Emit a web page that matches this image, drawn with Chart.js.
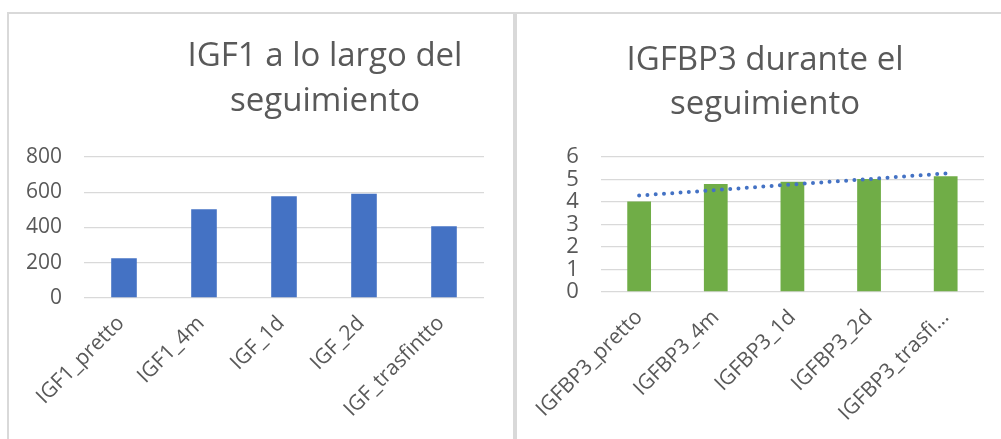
<!DOCTYPE html>
<html>
<head>
<meta charset="utf-8">
<script src="https://cdn.jsdelivr.net/npm/chart.js@4"></script>
<style>
  html, body { margin: 0; padding: 0; background: #ffffff; }
  body { width: 1001px; height: 439px; position: relative; overflow: hidden; }
  .frame-top { position: absolute; left: 7px; top: 12px; width: 994px; height: 2px; background: #d9d9d9; }
  .frame-left { position: absolute; left: 7px; top: 12px; width: 2px; height: 427px; background: #d9d9d9; }
  .frame-mid { position: absolute; left: 513px; top: 12px; width: 4px; height: 427px; background: #d9d9d9; }
  #wrapA { position: absolute; left: 9px; top: 15px; width: 504px; height: 424px; }
  #wrapB { position: absolute; left: 519px; top: 15px; width: 482px; height: 424px; }
</style>
</head>
<body>
<div class="frame-top"></div>
<div class="frame-left"></div>
<div class="frame-mid"></div>
<div id="wrapA"><canvas id="chartA" width="504" height="424"></canvas></div>
<div id="wrapB"><canvas id="chartB" width="482" height="424"></canvas></div>
<script>
// ---- Data ----
const igf1Categories = ["IGF1_pretto", "IGF1_4m", "IGF_1d", "IGF_2d", "IGF_trasfintto"];
const igf1Values = [226, 503, 577, 592, 407];
const igf1Ticks = [0, 200, 400, 600, 800];
const igf1Title = ["IGF1 a lo largo del", "seguimiento"];

const igfbp3Categories = ["IGFBP3_pretto", "IGFBP3_4m", "IGFBP3_1d", "IGFBP3_2d", "IGFBP3_trasfi\u2026"];
const igfbp3Values = [4.02, 4.8, 4.9, 5.02, 5.15];
const igfbp3Trend = [4.29, 4.53, 4.78, 5.02, 5.27];
const igfbp3Ticks = [0, 1, 2, 3, 4, 5, 6];
const igfbp3Title = ["IGFBP3 durante el", "seguimiento"];

const FONT = "'Open Sans', 'Noto Sans', sans-serif";
const TEXT = "#595959";
const GRID = "#d9d9d9";

function titlePlugin(lines, cx, baselines, size) {
  return {
    id: 'customTitle',
    afterDraw(chart) {
      const ctx = chart.ctx;
      ctx.save();
      ctx.fillStyle = TEXT;
      ctx.font = size + "px " + FONT;
      ctx.textAlign = "center";
      ctx.textBaseline = "alphabetic";
      lines.forEach((t, i) => ctx.fillText(t, cx, baselines[i]));
      ctx.restore();
    }
  };
}

function makeChart(id, cats, datasets, ticks, yMax, opts) {
  return new Chart(document.getElementById(id), {
    data: { labels: cats, datasets: datasets },
    options: {
      responsive: false,
      animation: false,
      events: [],
      layout: { padding: { top: opts.top, right: opts.right, left: 0, bottom: 0 } },
      plugins: { legend: { display: false }, title: { display: false }, tooltip: { enabled: false } },
      scales: {
        x: {
          grid: { display: false, drawTicks: false },
          border: { display: false },
          ticks: {
            color: TEXT, font: { family: FONT, size: opts.xFont },
            maxRotation: 45, minRotation: 45, autoSkip: false,
            padding: opts.xPad, labelOffset: opts.xOff
          },
          afterFit(scale) { scale.height = opts.xHeight; }
        },
        y: {
          min: 0, max: yMax,
          afterBuildTicks(scale) { scale.ticks = ticks.map(v => ({ value: v })); },
          grid: { color: GRID, lineWidth: 1.3, drawTicks: false },
          border: { display: false },
          ticks: { color: TEXT, font: { family: FONT, size: opts.yFont }, padding: opts.yPad, autoSkip: false },
          afterFit(scale) { scale.width = opts.yWidth; }
        }
      }
    },
    plugins: [titlePlugin(opts.title, opts.titleX, opts.titleBase, opts.titleSize)]
  });
}

makeChart("chartA", igf1Categories, [
  { type: "bar", data: igf1Values, backgroundColor: "#4472c4",
    barPercentage: 0.32, categoryPercentage: 1.0, order: 1 }
], igf1Ticks, 800, {
  top: 142, right: 29, xHeight: 141, yWidth: 75, xFont: 21, yFont: 21, xPad: 13, xOff: -3, yPad: 22,
  title: igf1Title, titleX: 316, titleBase: [51, 96], titleSize: 33
});

makeChart("chartB", igfbp3Categories, [
  { type: "line", data: igfbp3Trend, borderColor: "#4472c4", borderWidth: 4,
    borderDash: [0, 8.3], borderCapStyle: "round", pointRadius: 0, fill: false,
    tension: 0, order: 0 },
  { type: "bar", data: igfbp3Values, backgroundColor: "#70ad47",
    barPercentage: 0.31, categoryPercentage: 1.0, order: 1 }
], igfbp3Ticks, 6, {
  top: 142, right: 17, xHeight: 147, yWidth: 80, xFont: 21, yFont: 22, xPad: 13, xOff: 0, yPad: 22,
  title: igfbp3Title, titleX: 246, titleBase: [55, 99], titleSize: 33
});
</script>
</body>
</html>
